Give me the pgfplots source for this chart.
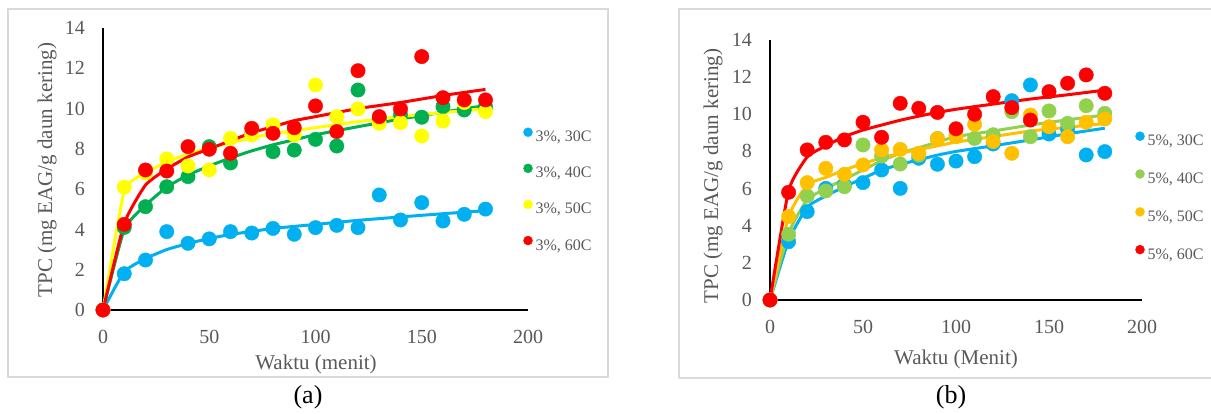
\documentclass[border=0pt]{standalone}
\usepackage{fontspec}
\setmainfont{Liberation Serif}
\usepackage{pgfplots}
\pgfplotsset{compat=1.18}
\definecolor{cblue}{HTML}{00B0F0}
\definecolor{cgreenA}{HTML}{00B050}
\definecolor{cyellowA}{HTML}{FFFF00}
\definecolor{cred}{HTML}{FF0000}
\definecolor{cgreenB}{HTML}{92D050}
\definecolor{cyellowB}{HTML}{FFC000}
\definecolor{tickgrey}{HTML}{595959}
\definecolor{framegrey}{HTML}{D9D9D9}
\pgfplotsset{
  legend image code/.code={\draw[#1,mark size=4.5pt] plot coordinates {(0pt,5.5pt)};},
  panel/.style={
    scale only axis, clip=false,
    xmin=0,xmax=200,ymin=0,ymax=14,
    xtick={0,50,100,150,200}, ytick={0,2,4,6,8,10,12,14},
    axis x line=bottom, axis y line=left,
    axis line style={black,line width=1.5pt,-},
    major tick length=0pt, tick style={draw=none},
    /pgf/number format/assume math mode=true,
    tick label style={font=\fontsize{20}{24}\selectfont,text=tickgrey,inner sep=0pt},
    yticklabel style={anchor=east,xshift=-18pt},
    xticklabel style={anchor=north,yshift=-20pt},
    legend style={draw=none,fill=none,font=\fontsize{16}{19}\selectfont,text=tickgrey,
      inner sep=0pt, column sep=3pt,
      nodes={inner sep=0pt, text height=12pt, text depth=4pt}},
    legend cell align=left,
  },
  fitline/.style={line width=3pt, forget plot, mark=none, smooth, tension=0.3},
  pts/.style={only marks, mark=*, mark size=7.2pt},
}
\begin{document}
\begin{tikzpicture}
\path[use as bounding box] (0pt,0pt) rectangle (1211pt,414pt);
\draw[framegrey,line width=1.5pt] (8pt,37pt) rectangle (608pt,405pt);
\draw[framegrey,line width=1.5pt] (679pt,36pt) -- (679pt,405pt) -- (1212pt,405pt);
\draw[framegrey,line width=1.5pt] (679pt,36pt) -- (1212pt,36pt);

% ---------- panel (a) ----------
\begin{axis}[panel, width=425pt, height=282pt, at={(103pt,104pt)}, anchor=south west,
  legend style={at={(0.989,0.647)}, anchor=north west, row sep=18.1pt}]
\addplot[fitline, color=cblue] coordinates {(0,0)(10,1.9)(20,2.55)(30,3.0)(40,3.3)(50,3.55)(60,3.75)(70,3.9)(80,4.05)(90,4.15)(100,4.25)(120,4.45)(140,4.62)(160,4.78)(180,4.93)};
\addplot[fitline, color=cgreenA] coordinates {(0,0)(10,4.0)(20,5.2)(30,6.1)(40,6.7)(50,7.15)(60,7.55)(70,7.9)(80,8.2)(90,8.45)(100,8.7)(120,9.1)(140,9.48)(160,9.82)(180,10.15)};
\addplot[fitline, color=cyellowA] coordinates {(0,0)(10,5.9)(20,6.8)(30,7.35)(40,7.75)(50,8.05)(60,8.3)(70,8.55)(80,8.75)(90,8.9)(100,9.05)(120,9.35)(140,9.6)(160,9.8)(180,10.0)};
\addplot[fitline, color=cred] coordinates {(0,0)(10,4.3)(20,6.2)(30,7.0)(40,7.6)(50,8.0)(60,8.4)(70,8.8)(80,9.1)(90,9.4)(100,9.6)(120,10.0)(140,10.3)(160,10.65)(180,10.95)};
\addplot[pts, color=cblue] coordinates {(0,0)(10,1.8)(20,2.48)(30,3.89)(40,3.31)(50,3.53)(60,3.89)(70,3.82)(80,4.05)(90,3.76)(100,4.09)(110,4.2)(120,4.09)(130,5.71)(140,4.47)(150,5.33)(160,4.42)(170,4.75)(180,5.01)};
\addlegendentry{3\%, 30C}
\addplot[pts, color=cgreenA] coordinates {(0,0)(10,4.1)(20,5.13)(30,6.12)(40,6.62)(50,8.11)(60,7.3)(70,8.75)(80,7.86)(90,7.94)(100,8.47)(110,8.14)(120,10.92)(130,9.45)(140,9.7)(150,9.57)(160,10.1)(170,9.93)(180,10.1)};
\addlegendentry{3\%, 40C}
\addplot[pts, color=cyellowA] coordinates {(0,0)(10,6.1)(20,6.8)(30,7.5)(40,7.15)(50,6.95)(60,8.52)(70,8.69)(80,9.19)(90,8.69)(100,11.17)(110,9.6)(120,9.98)(130,9.27)(140,9.3)(150,8.64)(160,9.38)(170,10.3)(180,9.85)};
\addlegendentry{3\%, 50C}
\addplot[pts, color=cred] coordinates {(0,0)(10,4.25)(20,6.95)(30,6.9)(40,8.11)(50,7.98)(60,7.78)(70,9.02)(80,8.77)(90,9.05)(100,10.13)(110,8.86)(120,11.88)(130,9.6)(140,9.98)(150,12.58)(160,10.54)(170,10.43)(180,10.43)};
\addlegendentry{3\%, 60C}
\end{axis}

% ---------- panel (b) ----------
\begin{axis}[panel, width=372pt, height=260pt, at={(770pt,114pt)}, anchor=south west,
  legend style={at={(0.982,0.648)}, anchor=north west, row sep=19.8pt}]
\addplot[fitline, color=cblue] coordinates {(0,0)(10,3.2)(20,5.0)(30,5.6)(40,6.1)(50,6.55)(60,7.0)(70,7.3)(80,7.55)(90,7.8)(100,8.0)(120,8.3)(140,8.62)(160,8.95)(180,9.25)};
\addplot[fitline, color=cgreenB] coordinates {(0,0)(10,3.6)(20,5.4)(30,6.0)(40,6.5)(50,7.0)(60,7.5)(70,7.9)(80,8.2)(90,8.5)(100,8.8)(120,9.1)(140,9.42)(160,9.7)(180,9.96)};
\addplot[fitline, color=cyellowB] coordinates {(0,0)(10,4.5)(20,6.2)(30,6.6)(40,7.0)(50,7.35)(60,7.65)(70,7.9)(80,8.1)(90,8.3)(100,8.5)(120,8.8)(140,9.1)(160,9.3)(180,9.5)};
\addplot[fitline, color=cred] coordinates {(0,0)(10,5.9)(20,7.7)(30,8.3)(40,8.8)(50,9.15)(60,9.42)(70,9.68)(80,9.9)(90,10.1)(100,10.27)(120,10.55)(140,10.82)(160,11.05)(180,11.3)};
\addplot[pts, color=cblue] coordinates {(0,0)(10,3.14)(20,4.76)(30,6.01)(40,6.2)(50,6.32)(60,7.0)(70,6.01)(80,7.63)(90,7.31)(100,7.48)(110,7.72)(120,8.4)(130,10.73)(140,11.58)(150,8.94)(160,9.2)(170,7.81)(180,7.99)};
\addlegendentry{5\%, 30C}
\addplot[pts, color=cgreenB] coordinates {(0,0)(10,3.54)(20,5.6)(30,5.87)(40,6.1)(50,8.35)(60,7.75)(70,7.32)(80,7.8)(90,8.7)(100,8.9)(110,8.7)(120,8.9)(130,10.14)(140,8.79)(150,10.18)(160,9.51)(170,10.46)(180,10.05)};
\addlegendentry{5\%, 40C}
\addplot[pts, color=cyellowB] coordinates {(0,0)(10,4.49)(20,6.32)(30,7.09)(40,6.77)(50,7.27)(60,8.08)(70,8.11)(80,7.9)(90,8.67)(100,8.79)(110,9.46)(120,8.53)(130,7.9)(140,9.96)(150,9.33)(160,8.79)(170,9.57)(180,9.75)};
\addlegendentry{5\%, 50C}
\addplot[pts, color=cred] coordinates {(0,0)(10,5.8)(20,8.08)(30,8.49)(40,8.62)(50,9.57)(60,8.76)(70,10.59)(80,10.32)(90,10.1)(100,9.22)(110,10.0)(120,10.95)(130,10.36)(140,9.69)(150,11.22)(160,11.67)(170,12.12)(180,11.13)};
\addlegendentry{5\%, 60C}
\end{axis}

% ---------- titles ----------
\node[anchor=base, font=\fontsize{21}{25}\selectfont, text=tickgrey] at (316pt,44pt) {Waktu (menit)};
\node[anchor=base, font=\fontsize{21}{25}\selectfont, text=tickgrey] at (956pt,49pt) {Waktu (Menit)};
\node[anchor=base, rotate=90, font=\fontsize{21}{25}\selectfont, text=tickgrey] at (52pt,244pt) {TPC (mg EAG/g daun kering)};
\node[anchor=base, rotate=90, font=\fontsize{21}{25}\selectfont, text=tickgrey] at (718pt,238pt) {TPC (mg EAG/g daun kering)};
\node[anchor=base, font=\fontsize{26}{30}\selectfont] at (308pt,10pt) {(a)};
\node[anchor=base, font=\fontsize{26}{30}\selectfont] at (951pt,10pt) {(b)};
\end{tikzpicture}
\end{document}
